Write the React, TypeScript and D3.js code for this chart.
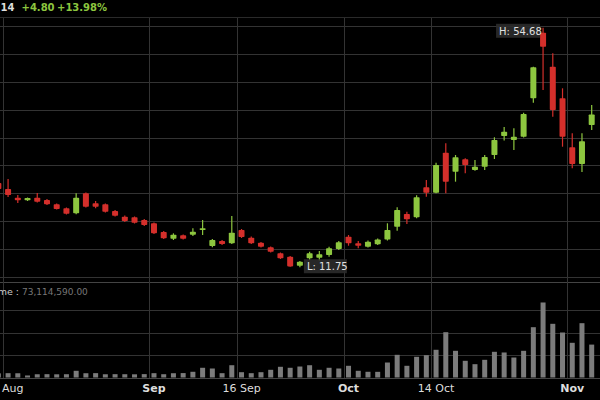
import React from "react";
import * as d3 from "d3";

const dates = [
  "2013-08-09",
  "2013-08-12","2013-08-13","2013-08-14","2013-08-15","2013-08-16",
  "2013-08-19","2013-08-20","2013-08-21","2013-08-22","2013-08-23",
  "2013-08-26","2013-08-27","2013-08-28","2013-08-29","2013-08-30",
  "2013-09-03","2013-09-04","2013-09-05","2013-09-06",
  "2013-09-09","2013-09-10","2013-09-11","2013-09-12","2013-09-13",
  "2013-09-16","2013-09-17","2013-09-18","2013-09-19","2013-09-20",
  "2013-09-23","2013-09-24","2013-09-25","2013-09-26","2013-09-27",
  "2013-09-30",
  "2013-10-01","2013-10-02","2013-10-03","2013-10-04",
  "2013-10-07","2013-10-08","2013-10-09","2013-10-10","2013-10-11",
  "2013-10-14","2013-10-15","2013-10-16","2013-10-17","2013-10-18",
  "2013-10-21","2013-10-22","2013-10-23","2013-10-24","2013-10-25",
  "2013-10-28","2013-10-29","2013-10-30","2013-10-31",
  "2013-11-01","2013-11-04","2013-11-05",
];

const opens = [
  26.85,
  25.78, 24.22, 23.75, 24.22, 23.8, 23.03, 22.32, 21.42, 25.01, 23.21,
  23.03, 21.83, 20.81, 20.7, 20.22, 19.63, 18.07, 16.87, 17.48, 17.58,
  18.43, 15.56, 16.45, 16.04, 18.43, 17.05, 16.15, 15.32, 14.25, 13.64,
  12.03, 13.35, 13.46, 13.94, 15.02, 17.23, 16.04, 15.43, 15.86, 16.72,
  19.02, 21.29, 20.7, 26.08, 25.11, 32.28, 28.88, 31.1, 29.18, 29.77,
  31.87, 35.28, 34.56, 35.15, 42.04, 53.8, 47.7, 42.04, 33.25, 30.26,
  37.25,
];
const highs = [
  27.39,
  27.57, 24.7, 24.25, 25.06, 23.98, 23.18, 22.46, 25.01, 25.15, 23.63,
  23.18, 22.01, 21.03, 20.85, 20.4, 19.77, 18.25, 17.83, 17.62, 18.73,
  20.22, 16.81, 16.63, 20.94, 18.61, 17.26, 16.27, 15.47, 14.39, 13.76,
  12.87, 14.54, 14.66, 15.43, 16.45, 17.53, 16.45, 16.54, 16.9, 19.63,
  22.5, 21.71, 24.65, 27.39, 30.49, 33.97, 31.87, 31.28, 30.98, 31.87,
  35.05, 36.89, 36.66, 39.46, 47.7, 54.68, 50.1, 43.83, 35.76, 35.76,
  40.84,
];
const lows = [
  25.42,
  24.34, 23.27, 23.63, 23.36, 22.91, 22.1, 21.21, 21.24, 22.46, 22.32,
  21.56, 20.85, 19.86, 19.59, 19.14, 17.71, 16.81, 16.63, 16.72, 17.35,
  17.53, 15.32, 15.74, 15.92, 16.99, 15.92, 15.29, 14.39, 13.23, 11.85,
  11.75, 13.05, 12.87, 13.64, 14.84, 15.61, 15.15, 15.29, 15.74, 16.54,
  18.3, 19.5, 20.52, 24.4, 25.01, 25.01, 27.09, 28.59, 29.06, 29.18,
  31.15, 34.47, 32.77, 35.01, 41.25, 43.53, 38.74, 33.36, 29.49, 28.82,
  36.35,
];
const closes = [
  25.78,
  24.7, 23.75, 24.16, 23.5, 23.03, 22.19, 21.35, 24.22, 22.6, 22.6,
  21.71, 20.99, 20.04, 19.73, 19.32, 17.83, 16.94, 17.58, 16.87, 18.12,
  18.73, 16.63, 15.92, 17.94, 17.17, 16.04, 15.43, 14.54, 13.35, 11.9,
  12.74, 14.25, 14.07, 15.15, 16.22, 16.04, 15.61, 16.33, 16.72, 18.43,
  22.01, 20.34, 24.29, 25.11, 30.08, 27.09, 31.46, 30.08, 29.77, 31.51,
  34.56, 36.05, 35.15, 39.22, 47.6, 51.29, 39.94, 35.15, 30.26, 34.34,
  39.14,
];
// volume in millions of shares
const volumes = [
  9.2,
  9.6, 9.4, 4.5, 7.2, 7.4, 7.1, 7.3, 14.9, 9.5, 9.7,
  7.2, 7.4, 7.3, 7.1, 7.5, 9.6, 7.3, 9.5, 9.8, 12.7,
  21.6, 20.0, 9.6, 27.3, 11.8, 9.6, 11.8, 17.1, 23.8, 21.6,
  24.4, 27.3, 17.1, 21.6, 20.0, 26.0, 14.9, 12.7, 12.6, 33.3,
  50.4, 26.0, 46.0, 49.6, 61.6, 100.7, 59.3, 37.1, 29.6, 39.3,
  57.1, 55.6, 44.4, 59.3, 111.8, 166.7, 119.3, 100.0, 77.1, 120.7,
  73.11459,
];

const tickDates = ["2013-08-12", "2013-09-03", "2013-09-16", "2013-10-01", "2013-10-14", "2013-11-01"];
const tickLabels = ["Aug", "Sep", "16 Sep", "Oct", "14 Oct", "Nov"];
const tickBold = [false, true, false, true, false, true];
const priceTicks = [10, 15, 20, 25, 30, 35, 40, 45, 50, 55];
const volumeTicks = [50, 100, 150];

const UP = "#8dc63f";
const DOWN = "#d42f2b";
const GRID = "#333333";
const FONT = "'DejaVu Sans', Verdana, sans-serif";

export default function App() {
  const W = 600;
  const H = 400;
  const x = d3.scalePoint<string>().domain(dates).range([-1.65, 591.7]);
  const step = x.step();
  const y = d3.scaleLinear().domain([10, 55]).range([277, 26]);
  const yv = d3.scaleLinear().domain([0, 200]).range([377.5, 287.5]);
  const bodyW = 6;
  const volW = 5;

  const n = dates.length;
  const last = n - 1;
  const change = closes[last] - closes[last - 1];
  const pct = (change / closes[last - 1]) * 100;
  const fmt2 = d3.format(".2f");
  const hiIdx = d3.maxIndex(highs);
  const loIdx = d3.minIndex(lows);
  const volText = d3.format(",.2f")(Math.round(volumes[last] * 1e6));

  return (
    <div style={{ position: "absolute", left: 0, top: 0, width: W, height: H, background: "#000" }}>
      <svg width={W} height={H} style={{ display: "block", background: "#000" }} fontFamily={FONT}>
        <rect x={0} y={0} width={W} height={H} fill="#000" />
        {/* horizontal price gridlines */}
        {priceTicks.map((t) => (
          <line key={"pg" + t} x1={0} x2={W} y1={Math.round(y(t)) + 0.5} y2={Math.round(y(t)) + 0.5} stroke={GRID} strokeWidth={1} />
        ))}
        {/* volume gridlines */}
        {volumeTicks.map((t) => (
          <line key={"vg" + t} x1={0} x2={W} y1={Math.round(yv(t)) + 0.5} y2={Math.round(yv(t)) + 0.5} stroke={GRID} strokeWidth={1} />
        ))}
        <line x1={0} x2={W} y1={282.5} y2={282.5} stroke="#444" strokeWidth={1} />
        <line x1={0} x2={W} y1={378.5} y2={378.5} stroke="#444" strokeWidth={1} />
        {/* vertical gridlines */}
        {tickDates.map((d) => {
          const gx = Math.round((x(d) as number) - step / 2) + 0.5;
          return <line key={"vx" + d} x1={gx} x2={gx} y1={17} y2={378} stroke={GRID} strokeWidth={1} />;
        })}
        <line x1={0} x2={W} y1={17.5} y2={17.5} stroke="#2a2a2a" strokeWidth={1} />

        {/* candles */}
        {dates.map((d, i) => {
          const cx = x(d) as number;
          const up = closes[i] >= opens[i];
          const col = up ? UP : DOWN;
          const top = y(Math.max(opens[i], closes[i]));
          const bot = y(Math.min(opens[i], closes[i]));
          const hgt = Math.max(1.5, bot - top);
          return (
            <g key={"c" + d}>
              <line x1={cx} x2={cx} y1={y(highs[i])} y2={y(lows[i])} stroke={col} strokeWidth={1.2} />
              <rect x={cx - bodyW / 2} y={top} width={bodyW} height={hgt} fill={col} rx={0.8} />
            </g>
          );
        })}

        {/* volume bars */}
        {dates.map((d, i) => {
          const cx = x(d) as number;
          return (
            <rect key={"v" + d} x={cx - volW / 2} y={yv(volumes[i])} width={volW} height={yv(0) - yv(volumes[i])} fill="#7c7c7c" />
          );
        })}

        {/* high / low labels */}
        <g>
          <rect x={(x(dates[hiIdx]) as number) - 47} y={y(highs[hiIdx]) - 4} width={44} height={14} fill="#2b2b2b" opacity={0.9} />
          <text x={(x(dates[hiIdx]) as number) - 44} y={y(highs[hiIdx]) + 7} fontSize={10} fill="#e0e0e0">
            {"H: " + fmt2(highs[hiIdx])}
          </text>
        </g>
        <g>
          <rect x={(x(dates[loIdx]) as number) + 4} y={y(lows[loIdx]) - 8} width={43} height={14} fill="#2b2b2b" opacity={0.9} />
          <text x={(x(dates[loIdx]) as number) + 7} y={y(lows[loIdx]) + 3} fontSize={10} fill="#e0e0e0">
            {"L: " + fmt2(lows[loIdx])}
          </text>
        </g>

        {/* header */}
        <text x={14.5} y={10.5} fontSize={10} fontWeight="bold" fill="#dddddd" textAnchor="end">
          {"C: " + fmt2(closes[last])}
        </text>
        <text x={21.5} y={10.5} fontSize={10} fontWeight="bold" fill={UP}>
          {(change >= 0 ? "+" : "") + fmt2(change)}
        </text>
        <text x={57} y={10.5} fontSize={10} fontWeight="bold" fill={UP}>
          {(pct >= 0 ? "+" : "") + fmt2(pct) + "%"}
        </text>

        {/* volume label */}
        <text x={19} y={295} fontSize={9.5} fill="#cccccc" textAnchor="end">
          Volume :
        </text>
        <text x={22} y={295} fontSize={9} fill="#777777">
          {volText}
        </text>

        {/* x axis labels */}
        {tickDates.map((d, i) => {
          const cx = x(d) as number;
          const isFirst = i === 0;
          return (
            <text
              key={"xl" + d}
              x={isFirst ? 2 : cx}
              y={392}
              fontSize={11}
              fontWeight={tickBold[i] ? "bold" : "normal"}
              fill="#dddddd"
              textAnchor={isFirst ? "start" : "middle"}
            >
              {tickLabels[i]}
            </text>
          );
        })}
      </svg>
    </div>
  );
}
